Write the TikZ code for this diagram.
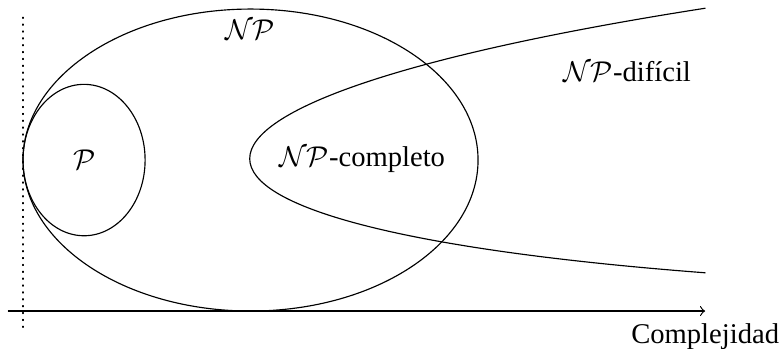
\documentclass[tikz,border=0pt]{standalone}
\usepackage{fontspec}
\setmainfont{Liberation Serif}
\begin{document}
\begin{tikzpicture}[line cap=round,line join=round]
  \useasboundingbox (-0.2826,-0.4545) rectangle (9.324,3.821);
  \coordinate (O) at (0,0);
  \coordinate (Xs) at (-0.18,0);
  \coordinate (Xe) at (8.38,0);
  \coordinate (Ys) at (0,-0.2);
  \coordinate (Ye) at (0,3.66);
  \coordinate (H1) at (8.38,3.72);
  \coordinate (H2) at (8.38,0.47);
  \draw[dotted,line width=0.4pt] (Ys) -- (Ye);
  \draw[->,line width=0.4pt] (Xs) -- (Xe);
  \draw[line width=0.4pt] (2.795,1.855) ellipse[x radius=2.795, y radius=1.855];
  \draw[line width=0.4pt] (0.75,1.855) ellipse[x radius=0.75, y radius=0.93];
  \draw[line width=0.4pt] (H1) .. controls (0.92,2.555) and (0.92,1.04) .. (H2);
  \node (np) at (2.79,3.45) {$\mathcal{NP}$};
  \node (p) at (0.76,1.855) {$\mathcal{P}$};
  \node (npc) at (4.165,1.855) {$\mathcal{NP}$-completo};
  \node (nph) at (7.42,2.94) {$\mathcal{NP}$-difícil};
  \node[below=1pt] (cx) at (Xe) {Complejidad};
\end{tikzpicture}
\end{document}
